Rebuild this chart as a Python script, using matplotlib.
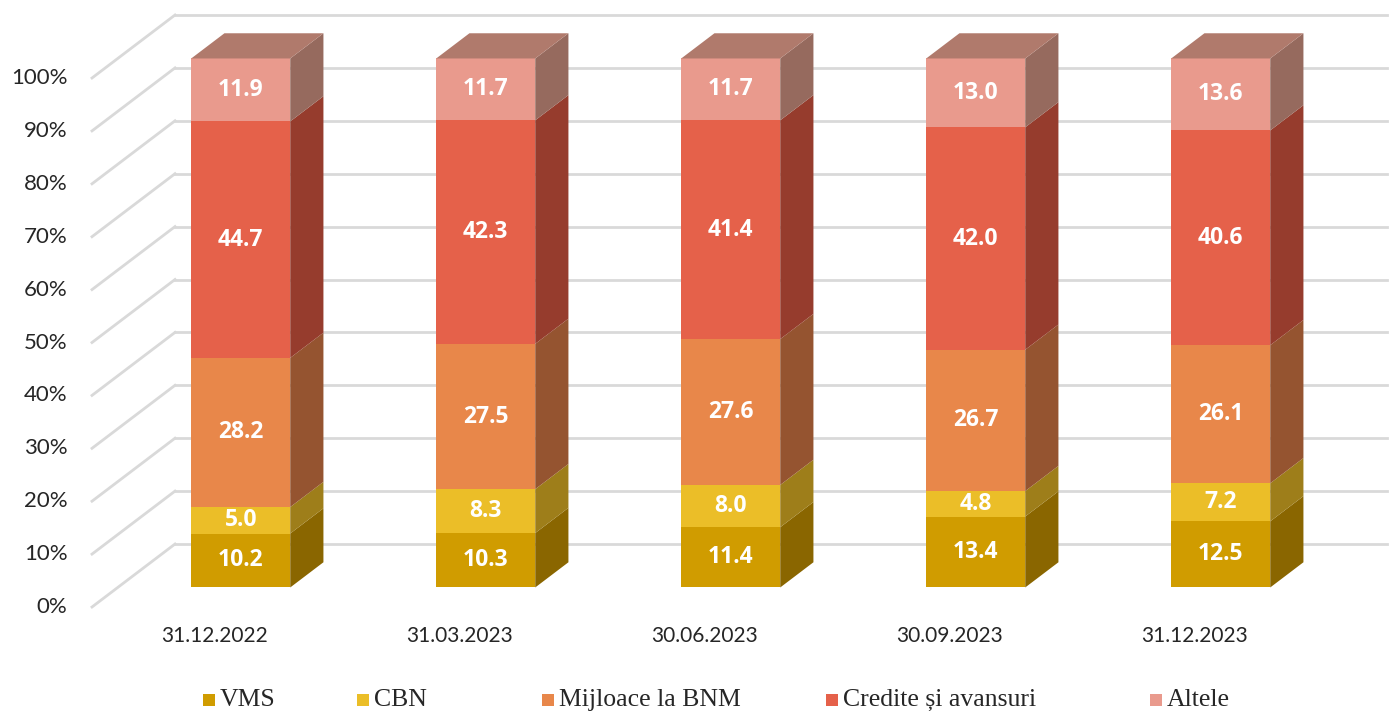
import numpy as np
import matplotlib
matplotlib.use('Agg')
import matplotlib.pyplot as plt
from matplotlib.patches import Polygon, Rectangle

dates = ['31.12.2022', '31.03.2023', '30.06.2023', '30.09.2023', '31.12.2023']
series = ['VMS', 'CBN', 'Mijloace la BNM', 'Credite și avansuri', 'Altele']
vms = [10.2, 10.3, 11.4, 13.4, 12.5]
cbn = [5.0, 8.3, 8.0, 4.8, 7.2]
mijloace = [28.2, 27.5, 27.6, 26.7, 26.1]
credite = [44.7, 42.3, 41.4, 42.0, 40.6]
altele = [11.9, 11.7, 11.7, 13.0, 13.6]
yticks = [0, 10, 20, 30, 40, 50, 60, 70, 80, 90, 100]

front_colors = ['#D09C00', '#EBBE28', '#E8874A', '#E5614A', '#E99A8D']
side_colors = ['#8A6600', '#9E7E1A', '#955430', '#963C2D', '#966A5E']
top_color = '#B07A6C'

W, H = 1391, 713
fig = plt.figure(figsize=(W / 100, H / 100), dpi=100)
ax = fig.add_axes([0, 0, 1, 1])
# one category = 245 px, 1% = 5.29 px
ax.set_xlim(-215 / 245, (W - 215) / 245)
ax.set_ylim((607 - H) / 5.29, 607 / 5.29)
ax.axis('off')

# depth vector of the whole "floor" (wall front -> wall back)
DX, DY = 83 / 245, 63 / 5.29
f_front, f_back = 0.31, 0.71
bar_w = 99 / 245

grid_c = '#D9D9D9'
x_left = -0.502
x_right = (W - 4 - 215) / 245
for v in yticks:
    ax.plot([x_left, x_left + DX], [v, v + DY], color=grid_c, lw=2, zorder=1)
    ax.plot([x_left + DX, x_right], [v + DY, v + DY], color=grid_c, lw=2, zorder=1)
    ax.text(x_left - 0.1, v, f'{v}%', ha='right', va='center', fontsize=16,
            family='Lato', color='#262626')

data = np.array([vms, cbn, mijloace, credite, altele])
shares = data / data.sum(axis=0) * 100

fx, fy = f_front * DX, f_front * DY
bx, by = (f_back - f_front) * DX, (f_back - f_front) * DY
xs = np.arange(len(dates))
bottom = np.zeros(len(dates))
for k in range(len(series)):
    h = shares[k]
    ax.bar(xs + fx, h, width=bar_w, bottom=bottom + fy, color=front_colors[k],
           zorder=3, linewidth=0)
    for i in range(len(dates)):
        xr = xs[i] + fx + bar_w / 2
        y0 = bottom[i] + fy
        y1 = y0 + h[i]
        ax.add_patch(Polygon([(xr, y0), (xr + bx, y0 + by), (xr + bx, y1 + by), (xr, y1)],
                             closed=True, facecolor=side_colors[k], lw=0, zorder=3))
        if k == len(series) - 1:
            xl = xr - bar_w
            ax.add_patch(Polygon([(xl, y1), (xr, y1), (xr + bx, y1 + by), (xl + bx, y1 + by)],
                                 closed=True, facecolor=top_color, lw=0, zorder=3))
        ax.text(xs[i] + fx, y0 + h[i] / 2, f'{data[k, i]:.1f}', ha='center', va='center',
                color='white', fontsize=16.5, fontweight='bold', family='Open Sans', zorder=4)
    bottom += h

for i, d in enumerate(dates):
    ax.text(xs[i], -5.5, d, ha='center', va='center', fontsize=15, family='Lato',
            color='#262626')

# legend
leg_x = [203, 357, 542, 826, 1150]
for k, name in enumerate(series):
    fig.add_artist(Rectangle((leg_x[k] / W, 1 - 706 / H), 12 / W, 12 / H,
                             transform=fig.transFigure, facecolor=front_colors[k], lw=0))
    fig.text((leg_x[k] + 17) / W, 1 - 700 / H, name, ha='left', va='center',
             fontsize=18.5, family='Liberation Serif', color='#262626')

fig.savefig('out.png', dpi=100)
